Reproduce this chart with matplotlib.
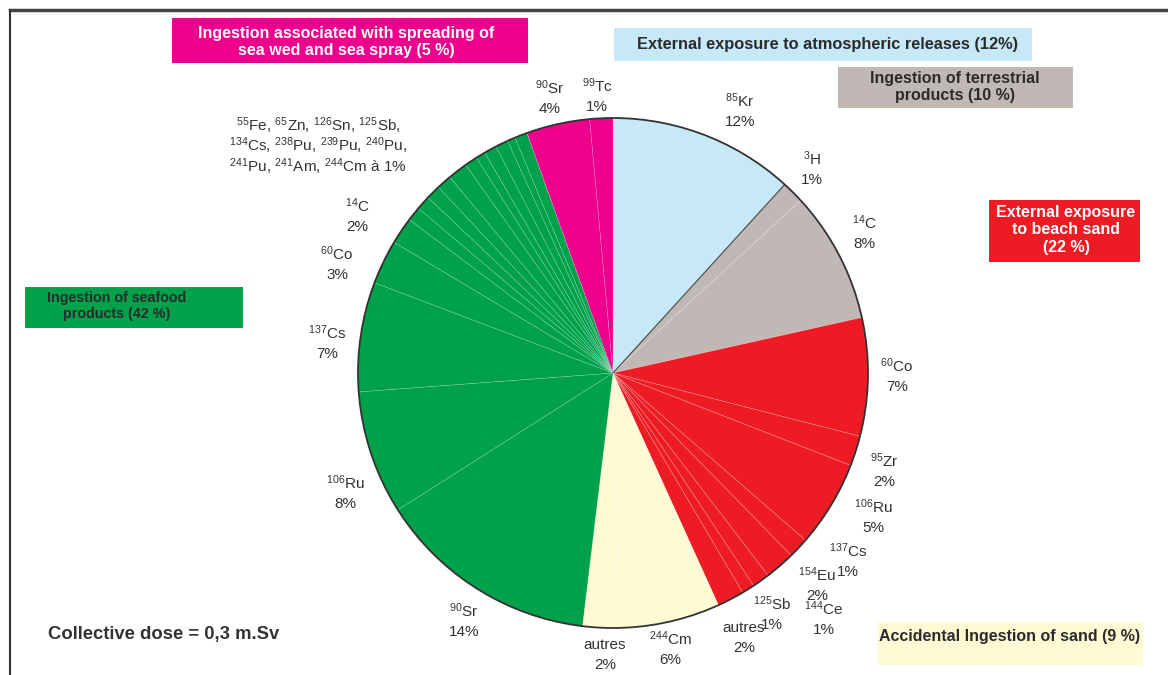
import re
import numpy as np
import matplotlib
matplotlib.use('Agg')
import matplotlib.pyplot as plt
from matplotlib.patches import Rectangle, Circle
from matplotlib.lines import Line2D

plt.rcParams['font.family'] = ['Liberation Sans', 'DejaVu Sans']
plt.rcParams['mathtext.default'] = 'regular'

# dose share per nuclide (%), clockwise from 12 o'clock
nuclides = ['85Kr',
            '3H', '14C',
            '60Co', '95Zr', '106Ru', '137Cs', '154Eu', '144Ce', '125Sb', 'autres',
            '244Cm', 'autres',
            '90Sr', '106Ru', '137Cs', '60Co', '14C',
            '55Fe', '65Zn', '126Sn', '125Sb', '134Cs', '238Pu', '239Pu', '240Pu',
            '241Pu', '241Am', '244Cm',
            '90Sr', '99Tc']
doses = [11.7,
         1.4, 8.3,
         7.45, 1.9, 5.45, 1.3, 1.9, 1.1, 0.8, 1.7,
         6.45, 2.2,
         14.0, 7.8, 6.9, 2.8, 1.7,
         0.9, 0.9, 0.9, 0.95, 1.25, 0.8, 0.6, 0.8,
         0.8, 0.5, 0.8,
         4.0, 1.45]
pathway = (['atm'] + ['terr'] * 2 + ['beach'] * 8 + ['sand'] * 2
           + ['sea'] * 16 + ['spray'] * 2)
# the 1 % seafood nuclides share one label
grouped = set(range(18, 29))

path_names = {
    'atm':   'External exposure to atmospheric releases ({:.0f}%)',
    'terr':  'Ingestion of terrestrial\nproducts ({:.0f} %)',
    'beach': 'External exposure\nto beach sand\n({:.0f} %)',
    'sand':  'Accidental Ingestion of sand ({:.0f} %)',
    'sea':   'Ingestion of seafood\nproducts ({:.0f} %)',
    'spray': 'Ingestion associated with spreading of\nsea wed and sea spray ({:.0f} %)',
}
path_colors = {'atm': '#c6e8f7', 'terr': '#c0b8b5', 'beach': '#ed1c24',
               'sand': '#fff9d4', 'sea': '#00a14b', 'spray': '#ec008c'}
path_text = {'atm': '#2b2b2b', 'terr': '#2b2b2b', 'beach': 'white',
             'sand': '#2b2b2b', 'sea': '#2b2b2b', 'spray': 'white'}

# layout in pixels (origin top left)
W, H = 1168, 675
CX, CY, R = 613, 373, 255
label_pos = [(740, 110),
             (812, 168), (864, 232),
             (897, 375), (884, 470), (873, 516), (848, 560), (817, 584),
             (824, 618), (772, 613), (744, 638),
             (670, 648), (605, 655),
             (464, 620), (345, 492), (327, 342), (337, 263), (357, 215)] \
            + [None] * 11 + [(550, 97), (597, 95)]
# box: x0, y0, x1, y1, text centre x, text centre y, font size
boxes = {'spray': (172, 18, 528, 63, 346, 42, 11.5),
         'atm':   (614, 28, 1032, 61, 828, 44, 11.8),
         'terr':  (838, 67, 1073, 108, 955, 87, 11.5),
         'beach': (989, 200, 1140, 262, 1066, 230, 11.5),
         'sea':   (25, 287, 243, 328, 117, 306, 10.3),
         'sand':  (878, 622, 1143, 665, 1010, 637, 11.5)}


def px(x, y):
    return x, H - y


def tex(name):
    m = re.match(r'(\d+)(\D+)', name)
    if m is None:
        return name
    return r'$^{%s}$%s' % m.groups()


fig = plt.figure(figsize=(W / 100, H / 100), dpi=100)
ax = fig.add_axes([0, 0, 1, 1])

colors = [path_colors[p] for p in pathway]
wedges, _ = ax.pie(doses, colors=colors, startangle=90, counterclock=False,
                   radius=R, center=px(CX, CY),
                   wedgeprops=dict(edgecolor=(1, 1, 1, 0.22), linewidth=0.5))
ax.add_patch(Circle(px(CX, CY), R, fill=False, ec='#333333', lw=1.3, zorder=3))

# dark edge between the atmospheric and terrestrial slices
theta = np.deg2rad(wedges[0].theta1)
ax.plot([CX, CX + R * np.cos(theta)],
        [H - CY, H - CY + R * np.sin(theta)], color='#444444', lw=0.8)

ax.set_xlim(0, W)
ax.set_ylim(0, H)
ax.set_aspect('auto')
ax.axis('off')

lab_kw = dict(ha='center', va='center', fontsize=11, color='#333333')
for i, (name, v) in enumerate(zip(nuclides, doses)):
    if label_pos[i] is None:
        continue
    ax.text(*px(*label_pos[i]), f'{tex(name)}\n{v:.0f}%', linespacing=1.5,
            **lab_kw)

small = [tex(nuclides[i]) for i in sorted(grouped)]
small_txt = (', '.join(small[:4]) + ',\n' + ', '.join(small[4:8]) + ',\n'
             + ', '.join(small[8:]) + ' à 1%')
ax.text(*px(318, 146), small_txt, linespacing=1.0, **lab_kw)

for p, (x0, y0, x1, y1, tx, ty, fs) in boxes.items():
    total = sum(v for v, q in zip(doses, pathway) if q == p)
    ax.add_patch(Rectangle(px(x0, y1), x1 - x0, y1 - y0,
                           fc=path_colors[p], ec='none'))
    ax.text(*px(tx, ty), path_names[p].format(total), ha='center',
            va='center', fontsize=fs, fontweight='bold',
            color=path_text[p], linespacing=1.2)

ax.text(*px(48, 635), 'Collective dose = 0,3 m.Sv', ha='left', va='center',
        fontsize=13.3, fontweight='bold', color='#333333')

# page frame
fig.add_artist(Line2D([10 / W, 1], [1 - 10 / H] * 2, color='#444444', lw=2.5))
fig.add_artist(Line2D([10 / W] * 2, [0, 1 - 10 / H], color='#333333', lw=1.5))

fig.savefig('out.png', dpi=100)
